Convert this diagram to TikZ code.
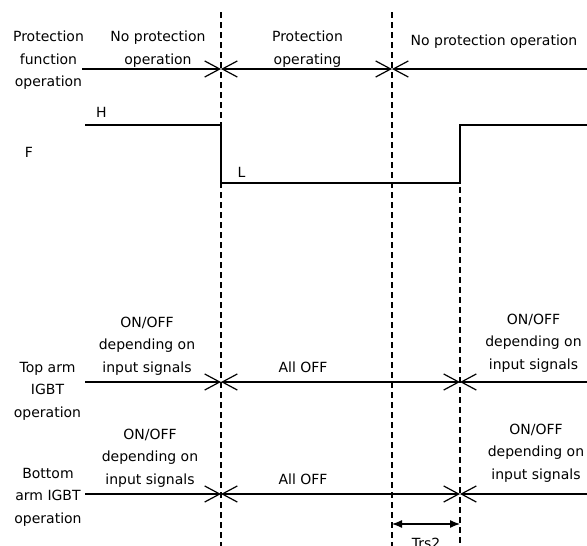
\documentclass[tikz,border=0pt]{standalone}
\usepackage{fontspec}
\setmainfont{DejaVu Sans}
\usetikzlibrary{arrows.meta}
\begin{document}
\begin{tikzpicture}[x=1pt,y=-1pt,
  sig/.style={line width=1.2pt},
  guide/.style={line width=1.1pt, dash pattern=on 6pt off 4pt},
  rtip/.style={-{Straight Barb[length=15pt,width=16pt]}},
  ltip/.style={{Straight Barb[length=15pt,width=16pt]}-},
  btip/.style={{Straight Barb[length=15pt,width=16pt]}-{Straight Barb[length=15pt,width=16pt]}},
  dim/.style={line width=1.2pt, {Latex[length=10pt,width=8pt]}-{Latex[length=10pt,width=8pt]}},
  lbl/.style={font=\fontsize{14}{22.5}\selectfont, align=center, inner sep=0pt},
]
\useasboundingbox (0,0) rectangle (587,546);

% time markers
\coordinate (t1top) at (221,12);   \coordinate (t1bot) at (221,546);
\coordinate (t2top) at (392,12);   \coordinate (t2bot) at (392,546);
\coordinate (t3top) at (460,187);  \coordinate (t3bot) at (460,546);
\draw[guide] (t1top) -- (t1bot);
\draw[guide] (t2top) -- (t2bot);
\draw[guide] (t3top) -- (t3bot);

% protection function operation row
\node[lbl] (pfo) at (48.5,60.5) {Protection\\function\\operation};
\coordinate (p0) at (82,69);
\coordinate (p1) at (221,69);
\coordinate (p2) at (392,69);
\coordinate (p3) at (587,69);
\draw[sig, rtip] (p0) -- (p1);
\draw[sig, btip] (p1) -- (p2);
\draw[sig, ltip] (p2) -- (p3);
\node[lbl] (pnone1) at (158,49) {No protection\\operation};
\node[lbl] (pon) at (307.5,49) {Protection\\operating};
\node[lbl] (pnone2) at (494,42) {No protection operation};

% F signal
\node[lbl] (flbl) at (29,152) {F};
\coordinate (f0) at (85,125);
\coordinate (f1) at (221,125);
\coordinate (f2) at (221,183);
\coordinate (f3) at (460,183);
\coordinate (f4) at (460,125);
\coordinate (f5) at (587,125);
\draw[sig] (f0) -- (f1) -- (f2) -- (f3) -- (f4) -- (f5);
\node[lbl] (hlbl) at (101.5,112) {H};
\node[lbl] (llbl) at (241.5,172.5) {L};

% top arm IGBT row
\node[lbl] (top) at (47.5,391) {Top arm\\IGBT\\operation};
\coordinate (a0) at (85,382);
\coordinate (a1) at (221,382);
\coordinate (a2) at (460,382);
\coordinate (a3) at (587,382);
\draw[sig, rtip] (a0) -- (a1);
\draw[sig, btip] (a1) -- (a2);
\draw[sig, ltip] (a2) -- (a3);
\node[lbl] (aon1) at (147,346) {ON/OFF\\depending on\\input signals};
\node[lbl] (aoff) at (303,367) {All OFF};
\node[lbl] (aon2) at (533.5,343) {ON/OFF\\depending on\\input signals};

% bottom arm IGBT row
\node[lbl] (bot) at (48,497) {Bottom\\arm IGBT\\operation};
\coordinate (b0) at (85,494);
\coordinate (b1) at (221,494);
\coordinate (b2) at (460,494);
\coordinate (b3) at (587,494);
\draw[sig, rtip] (b0) -- (b1);
\draw[sig, btip] (b1) -- (b2);
\draw[sig, ltip] (b2) -- (b3);
\node[lbl] (bon1) at (150,458) {ON/OFF\\depending on\\input signals};
\node[lbl] (boff) at (303,479) {All OFF};
\node[lbl] (bon2) at (536,453) {ON/OFF\\depending on\\input signals};

% reset time Trs2
\coordinate (d0) at (392,524);
\coordinate (d1) at (460,524);
\draw[dim] (d0) -- (d1);
\node[lbl] (trs) at (426,543) {Trs2};
\end{tikzpicture}
\end{document}
